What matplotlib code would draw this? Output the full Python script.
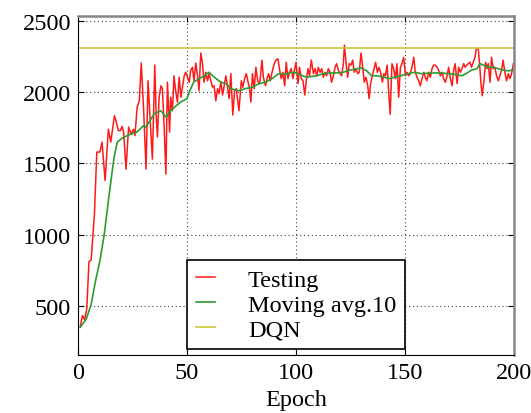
import matplotlib.pyplot as plt

plt.rcParams['font.family'] = ['Liberation Serif', 'DejaVu Serif']

# Testing score per epoch
test_epoch = [1, 2, 3, 4, 5, 6, 7.5, 8.6, 10, 11, 12.4, 13.9, 15, 16.7, 17.4, 18.5, 19.4,
              20.2, 20.9, 22, 23.2, 24.3, 25.4, 26.1, 27.1, 28.1, 29, 30.1, 31.2, 32.1, 33,
              34.1, 35.2, 35.8, 36.4, 37.2, 38, 38.7, 39.5, 40.3, 41, 42, 42.5, 43.3, 44,
              44.8, 45.6, 46.4, 47.2, 48, 48.7, 49.4, 50.2, 51, 51.7, 52.5, 53.2, 54, 54.8,
              55.5, 56.3, 57.1, 57.8, 58.6, 59.4, 60.1, 60.9, 61.7, 62.4, 63.2, 64, 64.7,
              65.5, 66.3, 67, 67.8, 68.5, 69.3, 70.1, 71, 71.8, 72.6, 73.8, 74.9, 75.6, 76.4,
              77.2, 78, 78.7, 79.3, 80, 80.8, 81.6, 82.4, 83.3, 84.4, 85, 86, 86.7, 87.4,
              88.2, 89, 90, 90.8, 91.7, 92.5, 93.2, 94, 94.8, 95.5, 96.3, 97, 97.8, 98.6,
              99.3, 100, 100.9, 101.6, 102.4, 103.2, 104, 104.7, 105.5, 106.2, 107, 108,
              108.7, 109.5, 110.2, 111, 111.8, 112.5, 113.3, 114, 114.8, 115.6, 116.3, 117,
              117.9, 118.6, 119.4, 120.2, 120.9, 121.7, 122.2, 123, 123.7, 124.4, 125.2, 126,
              126.7, 127.5, 128.3, 129, 129.8, 130.6, 131.3, 132.1, 132.9, 133.5, 134.2, 135,
              135.8, 136.5, 137.3, 138, 138.8, 139.6, 140.3, 141, 141.8, 142.5, 143.2, 144,
              144.8, 145.6, 146.3, 147.1, 147.9, 148.6, 149.4, 150.2, 150.9, 151.7, 152.4,
              153.2, 154, 154.7, 155.5, 156.3, 157, 157.8, 158.6, 159.3, 160, 160.9, 161.6,
              162.4, 163.1, 163.9, 164.7, 165.4, 166.2, 167, 167.7, 168.5, 169.3, 170, 170.8,
              171.6, 172.3, 173, 173.9, 174.6, 175.4, 176.1, 176.9, 177.6, 178.3, 179, 179.8,
              180.5, 181.3, 182.1, 182.7, 183.6, 184.2, 184.8, 185.4, 186.2, 187, 187.7,
              188.2, 189, 189.7, 190.5, 191.2, 192, 192.8, 193.5, 194.3, 195, 195.8, 196.6,
              197.4, 198.1, 198.9, 199.7]
test_score = [352, 432, 403, 480, 810, 822, 1140, 1580, 1580, 1650, 1380, 1740, 1650, 1835,
              1800, 1730, 1730, 1760, 1720, 1460, 1755, 1705, 1740, 1695, 1895, 1940, 2205,
              1870, 1460, 2080, 1825, 1530, 2190, 1850, 1685, 1965, 2045, 2025, 1755, 1425,
              2070, 1720, 1965, 1870, 2115, 2005, 1930, 2105, 1965, 2045, 2115, 2140, 2105,
              2070, 2155, 2175, 2080, 2205, 2115, 2010, 2275, 2200, 2070, 2140, 2080, 2130,
              2080, 2035, 2045, 1940, 2025, 1990, 2070, 1980, 2045, 2115, 2045, 1955, 2130,
              1840, 2010, 2025, 1870, 2080, 2035, 2095, 2130, 2070, 2025, 1930, 2130, 2025,
              2175, 2080, 2060, 2225, 2105, 2045, 2095, 2130, 2080, 2140, 2200, 2225, 2235,
              2155, 2095, 2140, 2045, 2210, 2095, 2140, 2165, 2095, 2155, 2210, 2060, 2175,
              2095, 2080, 1980, 2080, 2165, 2115, 2225, 2130, 2165, 2115, 2175, 2140, 2165,
              2105, 2140, 2115, 2165, 2140, 2070, 2105, 2175, 2200, 2155, 2130, 2115, 2200,
              2330, 2200, 2105, 2200, 2190, 2225, 2140, 2165, 2130, 2140, 2275, 2175, 2070,
              2105, 2045, 1955, 2060, 2115, 2165, 2210, 2140, 2175, 2140, 2070, 2130, 2115,
              2190, 2000, 1845, 2200, 2165, 2095, 2200, 1965, 2175, 2200, 2245, 2115, 2140,
              2115, 2130, 2175, 2245, 2140, 2105, 2080, 2045, 2095, 2140, 2105, 2080, 2140,
              2105, 2165, 2190, 2190, 2175, 2155, 2115, 2140, 2095, 2070, 2115, 2175, 2095,
              2045, 2155, 2200, 2060, 2175, 2140, 2165, 2200, 2175, 2190, 2200, 2210, 2175,
              2210, 2245, 2305, 2305, 2200, 2070, 1975, 2080, 2210, 2165, 2200, 2070, 2245,
              2165, 2175, 2115, 2080, 2115, 2155, 2225, 2140, 2080, 2130, 2095, 2130, 2200]

# 10-epoch moving average
avg_epoch = [1, 3.7, 6, 8, 10, 12, 14.5, 16.5, 18, 20.5, 24, 27, 30, 31, 33, 35, 38, 40.3,
             42.5, 45, 47, 50, 51, 53, 55.5, 58, 60, 62.5, 65.5, 68, 70, 73.7, 76.7, 80, 83,
             86, 89, 92, 95, 98, 100, 103, 105, 107, 109.5, 112.5, 115.6, 118.6, 121.7,
             124.7, 127.8, 130, 132.4, 134.7, 137, 139.3, 141.6, 143, 145, 148, 151.4, 154.4,
             157.5, 162, 166.7, 169.7, 172.8, 176, 178, 180.5, 183, 184.4, 186, 188.2, 190.5,
             192.8, 195, 197.4, 199.7]
avg_score = [350, 405, 510, 675, 815, 1000, 1310, 1540, 1650, 1680, 1705, 1720, 1765, 1755,
             1800, 1850, 1870, 1825, 1870, 1905, 1930, 1955, 2000, 2070, 2095, 2115, 2140,
             2105, 2070, 2060, 2025, 2010, 2025, 2035, 2060, 2070, 2095, 2130, 2125, 2140,
             2135, 2115, 2105, 2110, 2115, 2130, 2135, 2135, 2140, 2155, 2165, 2170, 2150,
             2115, 2115, 2110, 2100, 2095, 2105, 2115, 2130, 2140, 2130, 2135, 2135, 2130,
             2125, 2115, 2130, 2155, 2165, 2200, 2190, 2175, 2175, 2165, 2155, 2150, 2155]

dqn_score = 2310

fig = plt.figure(figsize=(5.31, 4.14), dpi=100)
ax = fig.add_axes([0.147, 0.140, 0.821, 0.819])

ax.plot(test_epoch, test_score, color='#ff1a1a', lw=1.1, label='Testing')
ax.plot(avg_epoch, avg_score, color='#2f9a2f', lw=1.2, label='Moving avg.10')
ax.axhline(dqn_score, color='#c8c83a', lw=1.2, label='DQN')

ax.set_xlim(0, 200)
ax.set_ylim(155, 2535)
ax.set_xticks([0, 50, 100, 150, 200])
ax.set_yticks([500, 1000, 1500, 2000, 2500])
ax.tick_params(direction='in', top=True, right=True, labelsize=17.5, length=4, pad=5)
ax.grid(True, color='#444444', linestyle=(0, (1, 2.5)), lw=0.8)
for side in ['top', 'right']:
    ax.spines[side].set_color('#888888')
    ax.spines[side].set_linewidth(1.8)

ax.set_xlabel('Epoch', fontsize=17.5, labelpad=4)

leg = ax.legend(loc='lower center', bbox_to_anchor=(0.5, 0.0), fontsize=17.5,
                frameon=True, fancybox=False, edgecolor='black', framealpha=1,
                handlelength=0.8, borderpad=0.35, labelspacing=0.12, handletextpad=1.35,
                borderaxespad=0.25)
leg.get_frame().set_linewidth(1.2)

plt.savefig('out.png', dpi=100)
